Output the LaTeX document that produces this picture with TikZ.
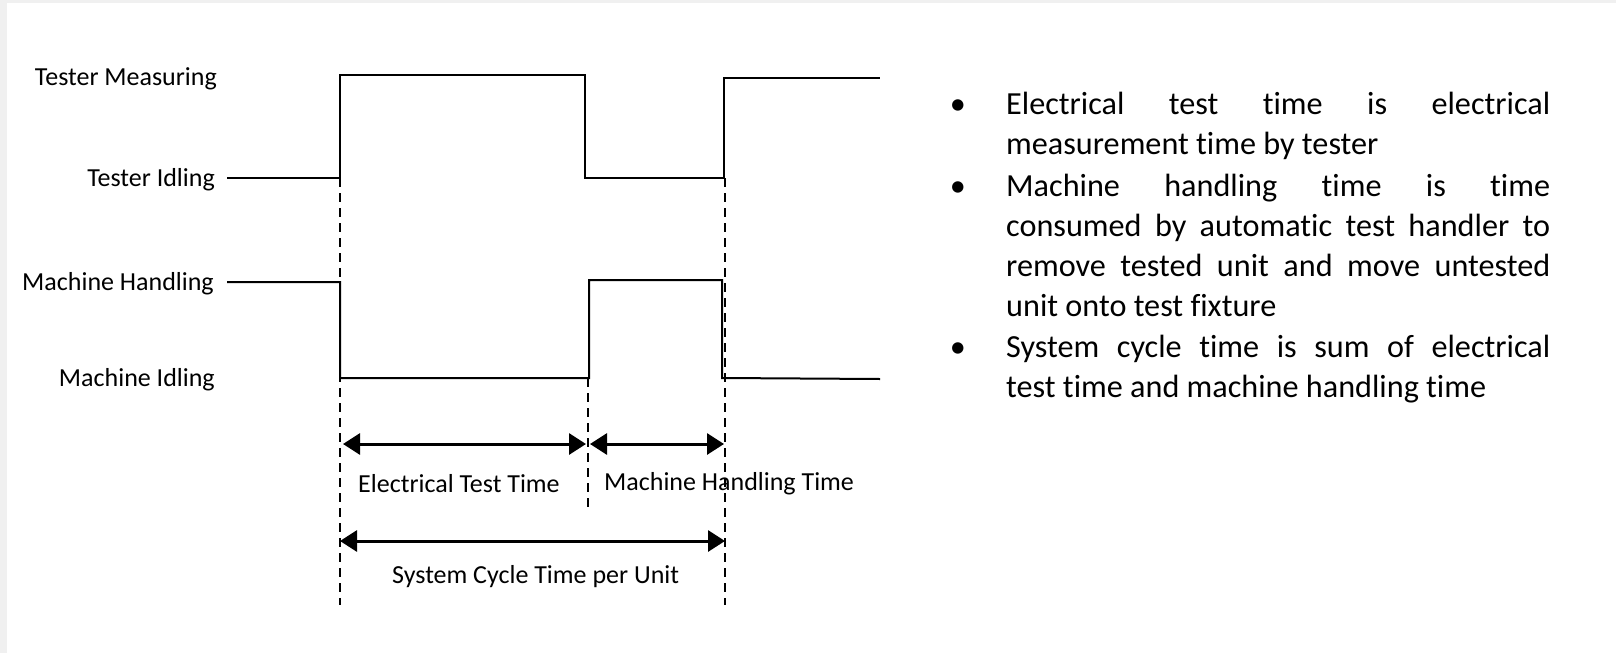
\documentclass[tikz,border=0pt]{standalone}
\usepackage{fontspec}
\setmainfont[Ligatures=NoCommon]{Carlito}
\usetikzlibrary{arrows.meta}
\definecolor{bgrey}{HTML}{F0F0F0}
\begin{document}
\begin{tikzpicture}[x=1pt,y=-1pt,
  wave/.style={line width=2pt, line join=miter},
  guide/.style={line width=1.6pt, dash pattern=on 9pt off 6pt},
  span/.style={line width=3pt, {Triangle[length=17pt,width=21pt]}-{Triangle[length=17pt,width=21pt]}},
  lab/.style={font=\fontsize{26}{31}\selectfont, inner sep=0pt},
  note/.style={font=\fontsize{32.2}{40}\selectfont, inner sep=0pt, text width=544pt, align=justify, anchor=base west},
  bul/.style={font=\fontsize{32.2}{40}\selectfont, inner sep=0pt, anchor=base}]
\useasboundingbox (0,0) rectangle (1616,653);
\fill[bgrey] (0,0) rectangle (1616,653);
\fill[white] (7,3) rectangle (1616,653);
% key points of the waveforms
\coordinate (t0) at (227,178); \coordinate (t1) at (340,178);
\coordinate (t2) at (340,75);  \coordinate (t3) at (585,75);
\coordinate (t4) at (585,178); \coordinate (t5) at (724,178);
\coordinate (t6) at (724,78);  \coordinate (t7) at (880,78);
\coordinate (m0) at (227,282); \coordinate (m1) at (340,282);
\coordinate (m2) at (340,378); \coordinate (m3) at (589,378);
\coordinate (m4) at (589,280); \coordinate (m5) at (722,280);
\coordinate (m6) at (722,378); \coordinate (m7) at (880,379);
% guide ends
\coordinate (ga0) at (340,178); \coordinate (ga1) at (340,605);
\coordinate (gb0) at (588,378); \coordinate (gb1) at (588,510);
\coordinate (gc0) at (725,178); \coordinate (gc1) at (725,605);
% span ends
\coordinate (e0) at (343,444); \coordinate (e1) at (586,444);
\coordinate (h0) at (590,444); \coordinate (h1) at (724,444);
\coordinate (s0) at (340,541); \coordinate (s1) at (725,541);
% guides
\draw[guide] (ga0) -- (ga1);
\draw[guide] (gb0) -- (gb1);
\draw[guide] (gc0) -- (gc1);
% waveforms
\draw[wave] (t0) -- (t1) -- (t2) -- (t3) -- (t4) -- (t5) -- (t6) -- (t7);
\draw[wave] (m0) -- (m1) -- (m2) -- (m3) -- (m4) -- (m5) -- (m6) -- (m7);
% spans
\draw[span] (e0) -- (e1);
\draw[span] (h0) -- (h1);
\draw[span] (s0) -- (s1);
% state labels
\node[lab, anchor=base east] (lTM) at (217,85) {Tester Measuring};
\node[lab, anchor=base east] (lTI) at (215,186) {Tester Idling};
\node[lab, anchor=base east] (lMH) at (214,290) {Machine Handling};
\node[lab, anchor=base east] (lMI) at (215,386) {Machine Idling};
% span labels
\node[lab, anchor=base west] (lE) at (358,492) {Electrical Test Time};
\node[lab, anchor=base west] (lH) at (604,490) {Machine Handling Time};
\node[lab, anchor=base west] (lS) at (392,583) {System Cycle Time per Unit};
% bullets
\node[bul] (b1) at (958,114) {•};
\node[bul] (b2) at (958,196) {•};
\node[bul] (b3) at (958,357) {•};
\node[note] (n1) at (1006,114) {\makebox[544pt][s]{Electrical test time is electrical}\\measurement time by tester};
\node[note] (n2) at (1006,196) {\makebox[544pt][s]{Machine handling time is time}\\\makebox[544pt][s]{consumed by automatic test handler to}\\\makebox[544pt][s]{remove tested unit and move untested}\\unit onto test fixture};
\node[note] (n3) at (1006,357) {\makebox[544pt][s]{System cycle time is sum of electrical}\\test time and machine handling time};
\end{tikzpicture}
\end{document}
